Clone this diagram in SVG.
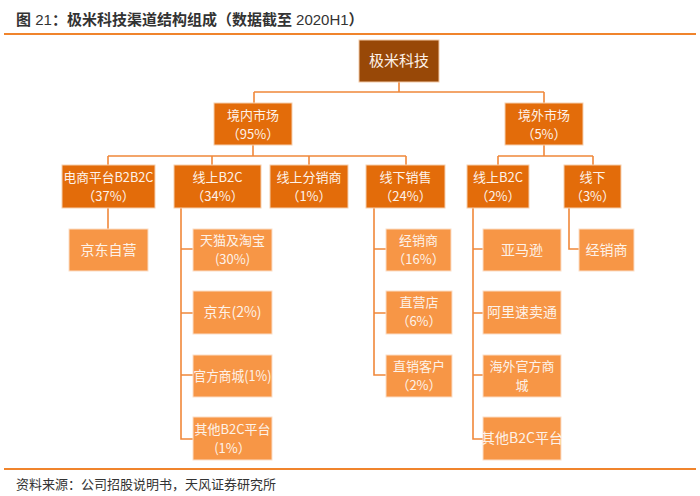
<svg xmlns="http://www.w3.org/2000/svg" width="700" height="496" viewBox="0 0 700 496">
<style>
.bg{fill:#ffffff}
.title{font-family:"Liberation Sans","Noto Sans CJK SC",sans-serif;font-size:15px;fill:#333333}
.b{font-weight:bold}
.src{font-family:"Liberation Sans","Noto Sans CJK SC",sans-serif;font-size:13px;fill:#333333}
.rule{stroke:#F0842C;stroke-width:2}
.root{fill:#984807;stroke:#F3C9A6;stroke-width:1}
.l1{fill:#E36C0A;stroke:#F6CFAE;stroke-width:1}
.l3{fill:#F79646;stroke:#FBDDC6;stroke-width:1}
.t{font-family:"Noto Sans CJK SC","Liberation Sans",sans-serif;font-size:13px;fill:#FDF2E9;text-anchor:middle}
.c{fill:none;stroke:#F0883A;stroke-width:1.6}
</style>
<rect class="bg" x="0" y="0" width="700" height="496"/>
<text class="title" x="16" y="25"><tspan class="b">图</tspan> 21<tspan class="b">：极米科技渠道结构组成（数据截至</tspan> 2020H1<tspan class="b">）</tspan></text>
<line class="rule" x1="4" y1="34" x2="696" y2="34"/>

<g id="connectors">
<path class="c" d="M399 82V92M254 92H544M254 92V103M544 92V103"/>
<path class="c" d="M253 145V156M108 156H406M108 156V165M212 156V165M309 156V165M406 156V165"/>
<path class="c" d="M544 145V156M498 156H593M498 156V165M593 156V165"/>
<path class="c" d="M108 208V229"/>
<path class="c" d="M181 208V439H193M181 249H193M181 313H193M181 375H193"/>
<path class="c" d="M374 208V375H386M374 249H386M374 313H386"/>
<path class="c" d="M473 208V439H483M473 249H483M473 313H483M473 375H483"/>
<path class="c" d="M569 208V249H579"/>
</g>

<g id="root"><rect class="root" x="359" y="40" width="80" height="42"/><text class="t" x="399" y="66" style="font-size:15px">极米科技</text></g>

<g id="domestic"><rect class="l1" x="214" y="103" width="78" height="42"/><text class="t" x="253" y="120">境内市场</text><text class="t" x="253" y="139">（95%）</text></g>
<g id="overseas"><rect class="l1" x="505" y="103" width="78" height="42"/><text class="t" x="544" y="120">境外市场</text><text class="t" x="544" y="139">（5%）</text></g>

<g id="b2b2c"><rect class="l1" x="62" y="165" width="93" height="43"/><text class="t" x="108.5" y="182" textLength="90" lengthAdjust="spacingAndGlyphs">电商平台B2B2C</text><text class="t" x="108.5" y="201">（37%）</text></g>
<g id="online-b2c"><rect class="l1" x="174" y="165" width="87" height="43"/><text class="t" x="217.5" y="182">线上B2C</text><text class="t" x="217.5" y="201">（34%）</text></g>
<g id="online-dist"><rect class="l1" x="270" y="165" width="78" height="43"/><text class="t" x="309" y="182">线上分销商</text><text class="t" x="309" y="201">（1%）</text></g>
<g id="offline-sales"><rect class="l1" x="366" y="165" width="79" height="43"/><text class="t" x="405.5" y="182">线下销售</text><text class="t" x="405.5" y="201">（24%）</text></g>
<g id="os-online-b2c"><rect class="l1" x="467" y="165" width="62" height="43"/><text class="t" x="498" y="182">线上B2C</text><text class="t" x="498" y="201">（2%）</text></g>
<g id="os-offline"><rect class="l1" x="564" y="165" width="57" height="43"/><text class="t" x="592.5" y="182">线下</text><text class="t" x="592.5" y="201">（3%）</text></g>

<g id="jd-self"><rect class="l3" x="69" y="229" width="79" height="42"/><text class="t" x="108.5" y="255" style="font-size:14px">京东自营</text></g>

<g id="tmall"><rect class="l3" x="193" y="229" width="79" height="42"/><text class="t" x="232.5" y="245">天猫及淘宝</text><text class="t" x="232.5" y="264">(30%)</text></g>
<g id="jd"><rect class="l3" x="193" y="291" width="79" height="43"/><text class="t" x="232.5" y="317" style="font-size:14px">京东(2%)</text></g>
<g id="official"><rect class="l3" x="193" y="355" width="79" height="42"/><text class="t" x="232.5" y="381" textLength="78" lengthAdjust="spacingAndGlyphs" style="font-size:14px">官方商城(1%)</text></g>
<g id="other-b2c"><rect class="l3" x="193" y="417" width="79" height="43"/><text class="t" x="232.5" y="434">其他B2C平台</text><text class="t" x="232.5" y="453">(1%）</text></g>

<g id="dealer"><rect class="l3" x="386" y="229" width="65" height="42"/><text class="t" x="418.5" y="245">经销商</text><text class="t" x="418.5" y="264">（16%）</text></g>
<g id="store"><rect class="l3" x="386" y="291" width="66" height="43"/><text class="t" x="419" y="307">直营店</text><text class="t" x="419" y="326">（6%）</text></g>
<g id="direct"><rect class="l3" x="386" y="355" width="66" height="42"/><text class="t" x="419" y="371">直销客户</text><text class="t" x="419" y="390">（2%）</text></g>

<g id="amazon"><rect class="l3" x="483" y="229" width="78" height="42"/><text class="t" x="522" y="255" style="font-size:14px">亚马逊</text></g>
<g id="aliexpress"><rect class="l3" x="483" y="291" width="78" height="43"/><text class="t" x="522" y="317" style="font-size:14px">阿里速卖通</text></g>
<g id="os-official"><rect class="l3" x="483" y="355" width="78" height="42"/><text class="t" x="522" y="371">海外官方商</text><text class="t" x="522" y="390">城</text></g>
<g id="os-other-b2c"><rect class="l3" x="483" y="417" width="78" height="43"/><text class="t" x="522" y="443" style="font-size:14px">其他B2C平台</text></g>

<g id="os-dealer"><rect class="l3" x="579" y="229" width="55" height="42"/><text class="t" x="606.5" y="255" style="font-size:14px">经销商</text></g>

<line class="rule" x1="4" y1="469" x2="696" y2="469"/>
<text class="src" x="16" y="489">资料来源：公司招股说明书，天风证券研究所</text>
</svg>
